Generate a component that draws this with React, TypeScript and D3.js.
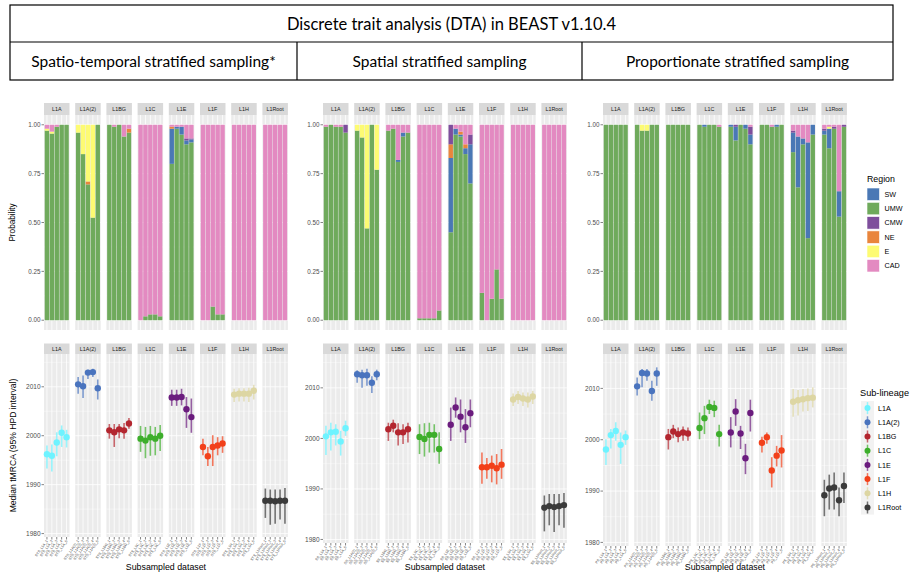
import React from "react";
import * as d3 from "d3";

// ---------- categories & labels ----------
const figureTitle = "Discrete trait analysis (DTA) in BEAST v1.10.4";
const designs = [
  "Spatio-temporal stratified sampling*",
  "Spatial stratified sampling",
  "Proportionate stratified sampling",
];
const designCodes = ["STS", "SS", "PS"];
const lineages = ["L1A", "L1A(2)", "L1BG", "L1C", "L1E", "L1F", "L1H", "L1Root"];
const replicates = [1, 2, 3, 4, 5];
const regions = ["SW", "UMW", "CMW", "NE", "E", "CAD"];
const regionColors = ["#4A78B5", "#6FAA5C", "#7E4E9C", "#E9853C", "#FDFB73", "#E38AC1"];
const stackOrder = ["UMW", "SW", "NE", "CMW", "E", "CAD"];
const lineageColors = ["#6EF3FF", "#4A74BE", "#B3262F", "#3DAE2B", "#6B1C7E", "#F2401A", "#DDD6A3", "#3B3B3B"];
const probTicks = [0, 0.25, 0.5, 0.75, 1];
const probMinor = [0.125, 0.375, 0.625, 0.875];
const yearTicks = [1980, 1990, 2000, 2010];
const yearMinor = [1985, 1995, 2005, 2015];

// ---------- root-state posterior probabilities ----------
// one row per subsampled dataset, lineage by lineage (5 each): SW, UMW, CMW, NE, E, CAD
const probSpatioTemporal = [
  [0, 0.97, 0, 0, 0.01, 0.02], [0, 0.955, 0, 0, 0.01, 0.035], [0, 0.99, 0, 0, 0, 0.01], [0, 1, 0, 0, 0, 0], [0, 1, 0, 0, 0, 0],
  [0, 0.96, 0, 0, 0.04, 0], [0, 0.85, 0, 0, 0.15, 0], [0, 0.695, 0, 0.015, 0.29, 0], [0, 0.525, 0, 0, 0.475, 0], [0, 1, 0, 0, 0, 0],
  [0, 1, 0, 0, 0, 0], [0, 0.99, 0, 0, 0, 0.01], [0, 1, 0, 0, 0, 0], [0, 0.94, 0, 0, 0, 0.06], [0, 0.96, 0, 0.02, 0, 0.02],
  [0, 0, 0, 0, 0, 1], [0, 0.02, 0, 0, 0, 0.98], [0, 0.03, 0, 0, 0, 0.97], [0, 0.03, 0, 0, 0, 0.97], [0, 0.02, 0, 0, 0, 0.98],
  [0.18, 0.8, 0, 0.01, 0, 0.01], [0.01, 0.98, 0, 0, 0, 0.01], [0.04, 0.95, 0, 0, 0, 0.01], [0.02, 0.9, 0.01, 0, 0, 0.07], [0.015, 0.91, 0.005, 0, 0, 0.07],
  [0, 0, 0, 0, 0, 1], [0, 0, 0, 0, 0, 1], [0, 0.07, 0, 0, 0, 0.93], [0, 0.03, 0, 0, 0, 0.97], [0, 0.03, 0, 0, 0, 0.97],
  [0, 0, 0, 0, 0, 1], [0, 0, 0, 0, 0, 1], [0, 0, 0, 0, 0, 1], [0, 0, 0, 0, 0, 1], [0, 0, 0, 0, 0, 1],
  [0, 0, 0, 0, 0, 1], [0, 0, 0, 0, 0, 1], [0, 0, 0, 0, 0, 1], [0, 0, 0, 0, 0, 1], [0, 0, 0, 0, 0, 1],
];
const probSpatial = [
  [0, 0.99, 0, 0, 0, 0.01], [0, 1, 0, 0, 0, 0], [0, 0.99, 0, 0, 0, 0.01], [0, 0.99, 0, 0, 0, 0.01], [0, 0.96, 0.04, 0, 0, 0],
  [0, 0.97, 0, 0, 0.03, 0], [0, 0.935, 0, 0, 0.065, 0], [0, 0.47, 0, 0, 0.53, 0], [0, 1, 0, 0, 0, 0], [0, 0.77, 0, 0, 0.23, 0],
  [0, 0.97, 0, 0, 0, 0.03], [0, 0.98, 0, 0, 0, 0.02], [0.01, 0.81, 0, 0, 0, 0.18], [0.02, 0.94, 0, 0, 0, 0.04], [0, 0.96, 0, 0, 0, 0.04],
  [0, 0.01, 0, 0, 0, 0.99], [0, 0.01, 0, 0, 0, 0.99], [0, 0.01, 0, 0, 0, 0.99], [0, 0.01, 0, 0, 0, 0.99], [0, 0.05, 0, 0, 0, 0.95],
  [0.38, 0.45, 0.1, 0.07, 0, 0], [0.03, 0.95, 0, 0, 0, 0.02], [0.01, 0.94, 0, 0.015, 0, 0.035], [0.03, 0.85, 0, 0.02, 0, 0.1], [0.2, 0.7, 0.05, 0, 0, 0.05],
  [0, 0.14, 0, 0, 0, 0.86], [0, 0, 0, 0, 0, 1], [0, 0.11, 0, 0, 0, 0.89], [0, 0.26, 0, 0, 0, 0.74], [0, 0.11, 0, 0, 0, 0.89],
  [0, 0, 0, 0, 0, 1], [0, 0, 0, 0, 0, 1], [0, 0, 0, 0, 0, 1], [0, 0, 0, 0, 0, 1], [0, 0, 0, 0, 0, 1],
  [0, 0, 0, 0, 0, 1], [0, 0, 0, 0, 0, 1], [0, 0, 0, 0, 0, 1], [0, 0, 0, 0, 0, 1], [0, 0, 0, 0, 0, 1],
];
const probProportionate = [
  [0, 1, 0, 0, 0, 0], [0, 1, 0, 0, 0, 0], [0, 1, 0, 0, 0, 0], [0, 1, 0, 0, 0, 0], [0, 1, 0, 0, 0, 0],
  [0, 1, 0, 0, 0, 0], [0, 0.97, 0, 0, 0.03, 0], [0, 0.97, 0, 0, 0.03, 0], [0, 1, 0, 0, 0, 0], [0, 1, 0, 0, 0, 0],
  [0, 1, 0, 0, 0, 0], [0, 1, 0, 0, 0, 0], [0, 1, 0, 0, 0, 0], [0, 1, 0, 0, 0, 0], [0, 1, 0, 0, 0, 0],
  [0, 1, 0, 0, 0, 0], [0.01, 0.99, 0, 0, 0, 0], [0, 1, 0, 0, 0, 0], [0, 1, 0, 0, 0, 0], [0, 0.99, 0, 0, 0, 0.01],
  [0.01, 0.99, 0, 0, 0, 0], [0.07, 0.92, 0.01, 0, 0, 0], [0, 1, 0, 0, 0, 0], [0.02, 0.98, 0, 0, 0, 0], [0.05, 0.9, 0.04, 0, 0, 0.01],
  [0, 1, 0, 0, 0, 0], [0, 1, 0, 0, 0, 0], [0, 0.99, 0, 0, 0, 0.01], [0.01, 0.99, 0, 0, 0, 0], [0, 1, 0, 0, 0, 0],
  [0.1, 0.86, 0.01, 0, 0, 0.03], [0.26, 0.68, 0, 0, 0, 0.06], [0.03, 0.9, 0, 0, 0, 0.07], [0.49, 0.42, 0, 0, 0, 0.09], [0.05, 0.95, 0, 0, 0, 0],
  [0.02, 0.95, 0.01, 0, 0, 0.02], [0.1, 0.88, 0, 0, 0.01, 0.01], [0, 0.98, 0.01, 0, 0, 0.01], [0.13, 0.53, 0, 0, 0, 0.34], [0, 0.99, 0.01, 0, 0, 0],
];

// ---------- tMRCA: median, lower and upper 95% HPD ----------
const tmrcaSpatioTemporal = [
  [1996.2, 1993.3, 1998.0], [1995.9, 1992.7, 1998.2], [1998.6, 1995.8, 2000.7], [2000.6, 1997.7, 2002.1], [1999.7, 1997.6, 2001.2],
  [2010.5, 2008.6, 2012.0], [2010.1, 2007.7, 2012.3], [2012.9, 2011.6, 2013.5], [2013.0, 2012.0, 2013.7], [2009.7, 2007.4, 2011.5],
  [2001.1, 1999.4, 2002.4], [2000.7, 1997.7, 2002.4], [2001.3, 1999.5, 2002.4], [2001.1, 1999.4, 2002.6], [2002.5, 2001.4, 2003.6],
  [1999.4, 1996.7, 2002.0], [1999.0, 1995.4, 2001.8], [1999.7, 1995.9, 2002.0], [1999.4, 1996.0, 2001.8], [2000.0, 1996.9, 2002.2],
  [2007.8, 2006.1, 2009.4], [2007.8, 2006.1, 2009.4], [2007.9, 2006.2, 2009.6], [2005.4, 2001.6, 2007.9], [2003.8, 2000.6, 2007.6],
  [1997.7, 1996.0, 1999.4], [1995.8, 1993.8, 1997.7], [1997.7, 1993.8, 2000.1], [1998.0, 1996.0, 1999.7], [1998.4, 1996.5, 1999.9],
  [2008.4, 2006.9, 2009.6], [2008.6, 2007.0, 2009.7], [2008.6, 2007.0, 2009.7], [2008.6, 2006.9, 2009.8], [2009.2, 2007.4, 2010.4],
  [1986.7, 1983.2, 1989.2], [1986.7, 1981.8, 1989.0], [1986.6, 1982.0, 1989.0], [1986.7, 1982.9, 1989.0], [1986.7, 1982.0, 1989.3],
];
const tmrcaSpatial = [
  [2000.4, 1996.7, 2002.5], [2001.2, 1997.6, 2003.1], [2001.3, 1998.6, 2002.8], [1999.4, 1996.6, 2001.5], [2002.0, 2000.5, 2003.5],
  [2012.7, 2011.0, 2013.5], [2012.5, 2010.0, 2013.6], [2012.5, 2010.4, 2013.8], [2011.0, 2009.0, 2012.3], [2012.7, 2011.5, 2013.6],
  [2001.8, 1999.5, 2003.1], [2002.5, 2001.2, 2003.7], [2001.2, 1998.6, 2003.0], [2001.2, 1998.9, 2002.8], [2001.8, 1999.2, 2003.1],
  [2000.3, 1996.9, 2002.8], [1999.9, 1996.4, 2003.0], [2000.7, 1997.2, 2003.1], [2000.7, 1997.2, 2002.8], [1997.9, 1995.0, 2001.2],
  [2002.7, 1999.5, 2006.1], [2006.1, 2004.1, 2008.1], [2004.3, 2001.2, 2007.7], [2002.2, 1999.1, 2005.8], [2005.0, 2002.2, 2007.7],
  [1994.3, 1991.0, 1997.2], [1994.3, 1992.0, 1996.1], [1994.6, 1991.3, 1996.6], [1994.1, 1990.9, 1996.9], [1994.8, 1992.0, 1997.9],
  [2007.7, 2006.4, 2008.9], [2008.2, 2006.8, 2009.4], [2007.9, 2006.4, 2009.1], [2007.7, 2006.1, 2009.1], [2008.3, 2006.8, 2009.4],
  [1986.3, 1981.6, 1988.7], [1986.6, 1982.8, 1989.0], [1986.4, 1981.5, 1989.0], [1986.6, 1982.8, 1989.0], [1986.8, 1982.3, 1989.2],
];
const tmrcaProportionate = [
  [1998.1, 1995.1, 2000.1], [2000.9, 1998.3, 2002.1], [2001.7, 1999.8, 2003.4], [1999.0, 1995.3, 2001.4], [2000.5, 1999.0, 2001.8],
  [2010.4, 2008.6, 2012.1], [2013.0, 2010.2, 2013.8], [2012.9, 2011.5, 2013.8], [2009.5, 2007.6, 2011.5], [2012.9, 2010.5, 2014.1],
  [2000.5, 1998.1, 2002.1], [2001.6, 2000.3, 2002.9], [2001.1, 1999.5, 2002.4], [2001.4, 1999.8, 2002.6], [2001.2, 1999.8, 2002.4],
  [2002.3, 2000.1, 2005.3], [2004.2, 2001.1, 2006.6], [2006.4, 2005.0, 2007.8], [2006.2, 2004.4, 2007.6], [2001.1, 1998.7, 2002.9],
  [2001.4, 1998.5, 2004.4], [2005.5, 2002.7, 2007.9], [2001.2, 1998.2, 2002.7], [1996.4, 1993.3, 1999.2], [2005.2, 2001.6, 2007.8],
  [1999.4, 1997.5, 2000.6], [2000.5, 1999.2, 2001.4], [1994.0, 1990.7, 1996.6], [1996.9, 1994.8, 1998.8], [1997.9, 1994.6, 2000.9],
  [2007.4, 2004.5, 2009.9], [2007.7, 2004.7, 2009.7], [2007.9, 2005.5, 2009.9], [2008.1, 2005.6, 2010.0], [2008.2, 2006.3, 2010.2],
  [1989.2, 1985.1, 1992.2], [1990.5, 1986.4, 1993.2], [1990.7, 1986.4, 1993.6], [1988.2, 1985.1, 1990.7], [1991.0, 1987.7, 1993.6],
];

const probByDesign = [probSpatioTemporal, probSpatial, probProportionate];
const tmrcaByDesign = [tmrcaSpatioTemporal, tmrcaSpatial, tmrcaProportionate];

// ---------- layout ----------
const W = 910;
const H = 577;
const FONT = "'Liberation Sans', Arial, sans-serif";
const HEAD_FONT = "Lato, 'Open Sans', sans-serif";
const plotLefts = [44, 323, 603];
const facetStep = 31.2;
const facetW = 25.5;
const topStrip = [103, 115];
const topPanelBottom = 330;
const botStrip = [343.5, 354];
const botPanelBottoms = [537, 543, 546];
const PANEL_BG = "#EBEBEB";
const STRIP_BG = "#D9D9D9";
const AXIS_TXT = "#4D4D4D";

function facetX(plotLeft: number, i: number) {
  const x0 = plotLeft + i * facetStep;
  return d3.scaleLinear().domain([0.4, 5.6]).range([x0, x0 + facetW]);
}

function Strip({ x, y0, y1, label }: { x: number; y0: number; y1: number; label: string }) {
  return (
    <g>
      <rect x={x} y={y0} width={facetW} height={y1 - y0} fill={STRIP_BG} />
      <text x={x + facetW / 2} y={(y0 + y1) / 2 + 2} fontSize={5.4} fill="#1A1A1A" textAnchor="middle" fontFamily={FONT}>
        {label}
      </text>
    </g>
  );
}

function ProbabilityPlot({ d }: { d: number }) {
  const left = plotLefts[d];
  const y = d3.scaleLinear().domain([-0.05, 1.05]).range([topPanelBottom, topStrip[1]]);
  const rows = probByDesign[d].map((r) => {
    const o: Record<string, number> = {};
    regions.forEach((k, j) => (o[k] = r[j]));
    return o;
  });
  const series = d3.stack<Record<string, number>>().keys(stackOrder)(rows);
  return (
    <g>
      {lineages.map((lin, i) => {
        const x = facetX(left, i);
        const x0 = x.range()[0];
        return (
          <g key={lin}>
            <Strip x={x0} y0={topStrip[0]} y1={topStrip[1]} label={lin} />
            <rect x={x0} y={topStrip[1]} width={facetW} height={topPanelBottom - topStrip[1]} fill={PANEL_BG} />
            {probMinor.map((t) => (
              <line key={"m" + t} x1={x0} x2={x0 + facetW} y1={y(t)} y2={y(t)} stroke="#fff" strokeWidth={0.4} />
            ))}
            {probTicks.map((t) => (
              <line key={"M" + t} x1={x0} x2={x0 + facetW} y1={y(t)} y2={y(t)} stroke="#fff" strokeWidth={0.8} />
            ))}
            {replicates.map((r) => (
              <line key={"v" + r} x1={x(r)} x2={x(r)} y1={topStrip[1]} y2={topPanelBottom} stroke="#fff" strokeWidth={0.8} />
            ))}
            {series.map((s) => {
              const col = regionColors[regions.indexOf(s.key)];
              return replicates.map((r, j) => {
                const seg = s[i * 5 + j];
                if (seg[1] - seg[0] <= 0) return null;
                return (
                  <rect
                    key={s.key + r}
                    x={x(r - 0.45)}
                    width={x(r + 0.45) - x(r - 0.45)}
                    y={y(seg[1])}
                    height={y(seg[0]) - y(seg[1])}
                    fill={col}
                  />
                );
              });
            })}
          </g>
        );
      })}
      {probTicks.map((t) => (
        <g key={t}>
          <line x1={left - 2.5} x2={left} y1={y(t)} y2={y(t)} stroke="#333" strokeWidth={0.6} />
          <text x={left - 3.5} y={y(t) + 2.2} fontSize={6.3} fill={AXIS_TXT} textAnchor="end" fontFamily={FONT}>
            {d3.format(".2f")(t)}
          </text>
        </g>
      ))}
      {d === 0 && (
        <text
          transform={`translate(15,${(topStrip[1] + topPanelBottom) / 2}) rotate(-90)`}
          fontSize={8.2}
          fill="#000"
          textAnchor="middle"
          fontFamily={FONT}
        >
          Probability
        </text>
      )}
    </g>
  );
}

function TmrcaPlot({ d }: { d: number }) {
  const left = plotLefts[d];
  const bottom = botPanelBottoms[d];
  const y = d3.scaleLinear().domain([1979.3, 2016.7]).range([bottom, botStrip[1]]);
  const data = tmrcaByDesign[d];
  const right = left + 7 * facetStep + facetW;
  return (
    <g>
      {lineages.map((lin, i) => {
        const x = facetX(left, i);
        const x0 = x.range()[0];
        const col = lineageColors[i];
        return (
          <g key={lin}>
            <Strip x={x0} y0={botStrip[0]} y1={botStrip[1]} label={lin} />
            <rect x={x0} y={botStrip[1]} width={facetW} height={bottom - botStrip[1]} fill={PANEL_BG} />
            {yearMinor.map((t) => (
              <line key={"m" + t} x1={x0} x2={x0 + facetW} y1={y(t)} y2={y(t)} stroke="#fff" strokeWidth={0.4} />
            ))}
            {yearTicks.map((t) => (
              <line key={"M" + t} x1={x0} x2={x0 + facetW} y1={y(t)} y2={y(t)} stroke="#fff" strokeWidth={0.8} />
            ))}
            {replicates.map((r) => (
              <line key={"v" + r} x1={x(r)} x2={x(r)} y1={botStrip[1]} y2={bottom} stroke="#fff" strokeWidth={0.8} />
            ))}
            {replicates.map((r, j) => {
              const [med, lo, hi] = data[i * 5 + j];
              return (
                <g key={"p" + r}>
                  <line x1={x(r)} x2={x(r)} y1={y(lo)} y2={y(hi)} stroke={col} strokeWidth={1.6} strokeOpacity={0.7} />
                  <circle cx={x(r)} cy={y(med)} r={3.2} fill={col} />
                </g>
              );
            })}
            {replicates.map((r) => (
              <g key={"t" + r}>
                <line x1={x(r)} x2={x(r)} y1={bottom} y2={bottom + 2.5} stroke="#333" strokeWidth={0.6} />
                <text
                  transform={`translate(${x(r) + 1},${bottom + 4}) rotate(-55)`}
                  fontSize={3.6}
                  fill={AXIS_TXT}
                  textAnchor="end"
                  fontFamily={FONT}
                >
                  {`${designCodes[d]}_${lin}_${r}`}
                </text>
              </g>
            ))}
          </g>
        );
      })}
      {yearTicks.map((t) => (
        <g key={t}>
          <line x1={left - 2.5} x2={left} y1={y(t)} y2={y(t)} stroke="#333" strokeWidth={0.6} />
          <text x={left - 3.5} y={y(t) + 2.2} fontSize={6.5} fill={AXIS_TXT} textAnchor="end" fontFamily={FONT}>
            {t}
          </text>
        </g>
      ))}
      <text x={(left + right) / 2} y={570} fontSize={8.8} fill="#000" textAnchor="middle" fontFamily={FONT}>
        Subsampled dataset
      </text>
      {d === 0 && (
        <text
          transform={`translate(16,${(botStrip[1] + bottom) / 2}) rotate(-90)`}
          fontSize={8.6}
          fill="#000"
          textAnchor="middle"
          fontFamily={FONT}
        >
          Median tMRCA (95% HPD interval)
        </text>
      )}
    </g>
  );
}

function RegionLegend() {
  const x0 = 867;
  const y0 = 188;
  const step = 14.3;
  return (
    <g fontFamily={FONT}>
      <text x={x0} y={182} fontSize={8.8} fill="#000">Region</text>
      {regions.map((r, i) => (
        <g key={r}>
          <rect x={x0} y={y0 + i * step} width={12.5} height={12.5} fill={regionColors[i]} stroke="#fff" strokeWidth={0.6} />
          <text x={x0 + 17.5} y={y0 + i * step + 8.7} fontSize={7.2} fill="#000">{r}</text>
        </g>
      ))}
    </g>
  );
}

function LineageLegend() {
  const x0 = 861;
  const y0 = 401;
  const step = 14.2;
  return (
    <g fontFamily={FONT}>
      <text x={x0 - 1} y={396} fontSize={9.2} fill="#000">Sub-lineage</text>
      <rect x={x0} y={y0} width={13} height={step * lineages.length} fill="#F2F2F2" />
      {lineages.map((l, i) => {
        const cy = y0 + i * step + step / 2;
        return (
          <g key={l}>
            <line x1={x0 + 6.5} x2={x0 + 6.5} y1={cy - 6} y2={cy + 6} stroke={lineageColors[i]} strokeWidth={1.5} strokeOpacity={0.7} />
            <circle cx={x0 + 6.5} cy={cy} r={3} fill={lineageColors[i]} />
            <text x={x0 + 17} y={cy + 2.6} fontSize={7.2} fill="#000">{l}</text>
          </g>
        );
      })}
    </g>
  );
}

function Header() {
  const l = 10;
  const r = 893;
  const t = 5;
  const mid = 42;
  const b = 80;
  const dividers = [297, 582];
  const cells = [l, ...dividers, r];
  return (
    <g fontFamily={HEAD_FONT}>
      <rect x={l} y={t} width={r - l} height={b - t} fill="none" stroke="#000" strokeWidth={1.2} />
      <line x1={l} x2={r} y1={mid} y2={mid} stroke="#000" strokeWidth={1.2} />
      {dividers.map((x) => (
        <line key={x} x1={x} x2={x} y1={mid} y2={b} stroke="#000" strokeWidth={1.2} />
      ))}
      <text x={(l + r) / 2} y={29.5} fontSize={16.5} textAnchor="middle" fill="#000">{figureTitle}</text>
      {designs.map((s, i) => (
        <text key={s} x={(cells[i] + cells[i + 1]) / 2} y={67} fontSize={15.5} textAnchor="middle" fill="#000">
          {s}
        </text>
      ))}
    </g>
  );
}

export default function App() {
  return (
    <svg
      width={W}
      height={H}
      viewBox={`0 0 ${W} ${H}`}
      style={{ position: "absolute", left: 0, top: 0, background: "#fff" }}
    >
      <rect width={W} height={H} fill="#fff" />
      <Header />
      {designs.map((_, d) => (
        <g key={d}>
          <ProbabilityPlot d={d} />
          <TmrcaPlot d={d} />
        </g>
      ))}
      <RegionLegend />
      <LineageLegend />
    </svg>
  );
}
